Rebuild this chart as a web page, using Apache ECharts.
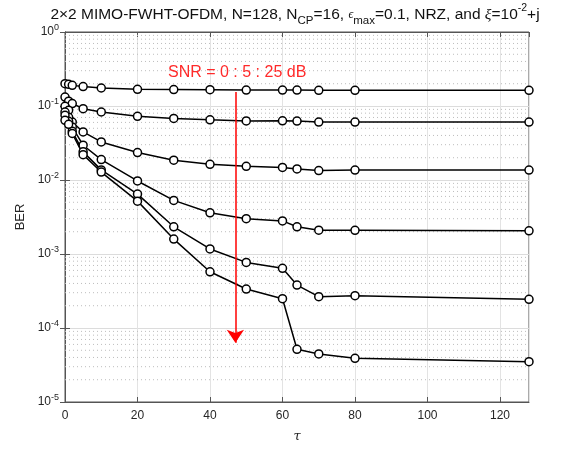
<!DOCTYPE html>
<html>
<head>
<meta charset="utf-8">
<script src="https://cdn.jsdelivr.net/npm/echarts@6/dist/echarts.min.js"></script>
<style>html,body{margin:0;padding:0;background:#fff}#c{width:574px;height:450px}</style>
</head>
<body>
<div id="c"></div>
<script>
// ---- data ----
const tau = [0, 1, 2, 5, 10, 20, 30, 40, 50, 60, 64, 70, 80, 128];
const snrDb = [0, 5, 10, 15, 20, 25];
const ber0 = [0.200, 0.196, 0.190, 0.183, 0.175, 0.168, 0.167, 0.166, 0.164, 0.164, 0.164, 0.163, 0.163, 0.163];
const ber5 = [0.132, 0.116, 0.108, 0.092, 0.083, 0.0726, 0.068, 0.065, 0.0628, 0.063, 0.0625, 0.0606, 0.0606, 0.0606];
const ber10 = [0.099, 0.0875, 0.0608, 0.0446, 0.0327, 0.0235, 0.0185, 0.0163, 0.0153, 0.0148, 0.0141, 0.0134, 0.0136, 0.0136];
const ber15 = [0.083, 0.0704, 0.052, 0.0295, 0.0189, 0.0097, 0.0053, 0.0036, 0.0030, 0.0028, 0.00233, 0.0021, 0.00209, 0.00206];
const ber20 = [0.075, 0.0622, 0.0455, 0.024, 0.0137, 0.00645, 0.00233, 0.00117, 0.00077, 0.00064, 0.00038, 0.000265, 0.000273, 0.000244];
const ber25 = [0.064, 0.0566, 0.0425, 0.022, 0.0128, 0.00518, 0.00159, 0.000575, 0.000336, 0.000249, 5.15e-5, 4.46e-5, 3.89e-5, 3.51e-5];
const yDecades = [-5, -4, -3, -2, -1, 0];
const arrowTau = 47;
const arrowFrom = 0.155;
const arrowTo = 6.3e-5;
const annotation = 'SNR = 0 : 5 : 25 dB';

const berSeries = [ber0, ber5, ber10, ber15, ber20, ber25];

// minor grid values (2..9 x 10^e), drawn as broken dotted line across x range
const minorVals = [];
for (let e = -5; e < 0; e++) for (let k = 2; k <= 9; k++) minorVals.push(k * Math.pow(10, e));
const minorData = [];
minorVals.forEach(v => { minorData.push([0, v], [128, v], [128, '-']); });

const chart = echarts.init(document.getElementById('c'), null, {renderer: 'canvas'});
const textColor = '#262626';
const axisColor = '#555555';
const ff = 'Liberation Sans, Arial, sans-serif';

function yFmt(v) {
  const e = Math.round(Math.log10(v));
  return '10{sup|' + e + '}';
}

const series = [];
series.push({
  type: 'line', data: minorData, z: 1, silent: true, symbol: 'none',
  connectNulls: false, animation: false,
  lineStyle: {color: '#bdbdbd', type: [1, 3], width: 1}
});
berSeries.forEach((arr, i) => {
  series.push({
    name: 'SNR ' + snrDb[i] + ' dB',
    type: 'line',
    data: tau.map((t, j) => [t, arr[j]]),
    symbol: 'circle', symbolSize: 8,
    lineStyle: {color: '#000', width: 1.5},
    itemStyle: {color: '#fff', borderColor: '#000', borderWidth: 1.5},
    animation: false, z: 3
  });
});
series.push({
  type: 'line', data: [], z: 5,
  markLine: {
    silent: true, animation: false,
    symbol: ['none', 'arrow'], symbolSize: 13,
    label: {show: false},
    lineStyle: {color: '#ff0000', width: 1.5, type: 'solid'},
    data: [[{coord: [arrowTau, arrowFrom]}, {coord: [arrowTau, arrowTo]}]]
  }
});

const option = {
  animation: false,
  backgroundColor: '#fff',
  title: {
    text: '2×2 MIMO-FWHT-OFDM, N=128, N{sub|CP}=16, {eps|ϵ}{sub|max}=0.1, NRZ, and {it|ξ}=10{sup|-2}+j',
    left: 290, top: -2, textAlign: 'center',
    textStyle: {
      fontFamily: ff, fontSize: 15.5, fontWeight: 'normal', color: '#111',
      lineHeight: 24,
      rich: {
        sub: {fontSize: 11.5, verticalAlign: 'bottom', lineHeight: 11, color: '#111', fontFamily: ff},
        sup: {fontSize: 10.5, verticalAlign: 'top', lineHeight: 11, color: '#111', fontFamily: ff},
        eps: {fontSize: 12, verticalAlign: 'middle', lineHeight: 24, color: '#111', fontFamily: 'Liberation Serif, serif', fontStyle: 'italic'},
        it: {fontSize: 15.5, fontStyle: 'italic', color: '#111', lineHeight: 24, fontFamily: 'Liberation Serif, serif'}
      }
    }
  },
  grid: {left: 65, right: 45, top: 32, bottom: 48, show: true, borderColor: axisColor, borderWidth: 1},
  xAxis: [{
    type: 'value', min: 0, max: 128, interval: 20,
    name: 'τ', nameLocation: 'middle', nameGap: 28,
    nameTextStyle: {fontFamily: 'DejaVu Serif, serif', fontStyle: 'italic', fontSize: 13, color: textColor},
    axisLine: {show: true, lineStyle: {color: axisColor, width: 1}},
    axisTick: {show: true, inside: true, length: 5, lineStyle: {color: axisColor}},
    axisLabel: {color: textColor, fontSize: 12, fontFamily: ff, margin: 8, showMaxLabel: false},
    splitLine: {show: true, lineStyle: {color: '#e3e3e3', width: 1}}
  }, {
    type: 'value', min: 0, max: 128, interval: 20, position: 'top',
    axisLine: {show: true, lineStyle: {color: axisColor}},
    axisTick: {show: true, inside: true, length: 5, lineStyle: {color: axisColor}},
    axisLabel: {show: false}, splitLine: {show: false}
  }],
  yAxis: [{
    type: 'log', logBase: 10, min: 1e-5, max: 1, interval: 1,
    name: 'BER', nameLocation: 'middle', nameGap: 38, nameRotate: 90,
    nameTextStyle: {fontFamily: ff, fontSize: 13, color: textColor},
    axisLine: {show: true, lineStyle: {color: axisColor, width: 1}},
    axisTick: {show: true, inside: true, length: 5, lineStyle: {color: axisColor}},
    axisLabel: {
      color: textColor, fontSize: 12, fontFamily: ff, margin: 6,
      formatter: yFmt,
      rich: {sup: {fontSize: 9, verticalAlign: 'top', padding: [0, 0, 8, 0], color: textColor, fontFamily: ff}}
    },
    splitLine: {show: true, lineStyle: {color: '#dcdcdc', width: 1}}
  }, {
    type: 'log', logBase: 10, min: 1e-5, max: 1, interval: 1, position: 'right',
    axisLine: {show: true, lineStyle: {color: axisColor}},
    axisTick: {show: true, inside: true, length: 5, lineStyle: {color: axisColor}},
    axisLabel: {show: false}, splitLine: {show: false}
  }],
  graphic: [{
    type: 'text', left: 168, top: 65, z: 10,
    style: {text: annotation, fill: '#ff2a2a', fontSize: 16, fontFamily: ff}
  }],
  series: series
};
chart.setOption(option);
</script>
</body>
</html>
